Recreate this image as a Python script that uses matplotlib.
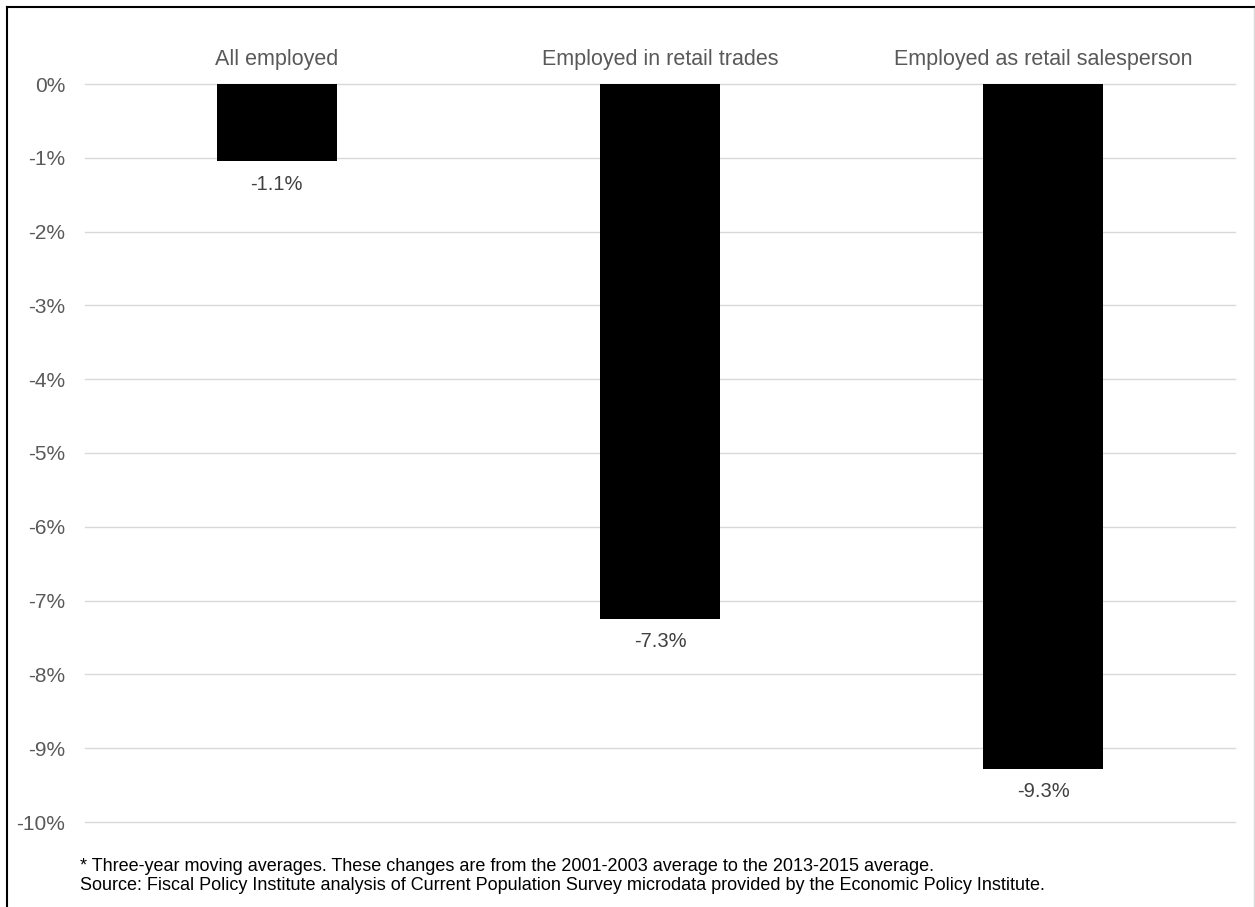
import matplotlib
matplotlib.use('Agg')
import matplotlib.pyplot as plt
import matplotlib.lines as mlines
import matplotlib.transforms as transforms

plt.rcParams['font.family'] = ['Liberation Sans', 'DejaVu Sans']

categories = ['All employed', 'Employed in retail trades', 'Employed as retail salesperson']
values = [-1.05, -7.25, -9.28]
value_labels = ['-1.1%', '-7.3%', '-9.3%']
yticks = [0, -1, -2, -3, -4, -5, -6, -7, -8, -9, -10]
ytick_labels = ['0%', '-1%', '-2%', '-3%', '-4%', '-5%', '-6%', '-7%', '-8%', '-9%', '-10%']
notes = ['* Three-year moving averages. These changes are from the 2001-2003 average to the 2013-2015 average.',
         'Source: Fiscal Policy Institute analysis of Current Population Survey microdata provided by the Economic Policy Institute.']

W, H = 1255, 907
fig = plt.figure(figsize=(W / 100, H / 100), dpi=100)
ax = fig.add_axes([85 / W, 1 - 822 / H, 1150 / W, 738 / H])

x = list(range(len(categories)))
ax.bar(x, values, width=0.313, color='black', zorder=3)
ax.set_xlim(-0.5, len(categories) - 0.5)
ax.set_ylim(-10, 0)

ax.set_yticks(yticks)
ax.set_yticklabels(ytick_labels, fontsize=15, color='#595959')
ax.tick_params(axis='y', length=0, pad=14.4)
ax.set_xticks([])
ax.grid(axis='y', color='#d9d9d9', linewidth=1, zorder=0)
for gl in ax.yaxis.get_gridlines():
    gl.set_clip_on(False)
for s in ax.spines.values():
    s.set_visible(False)

trans = transforms.blended_transform_factory(ax.transData, ax.transAxes)
for i, cat in enumerate(categories):
    ax.text(i, 1.0257, cat, transform=trans, ha='center', va='baseline', fontsize=15.5, color='#595959', clip_on=False)
    ax.annotate(value_labels[i], (i, values[i]), xytext=(0, -20.2), textcoords='offset points',
                ha='center', va='baseline', fontsize=14.5, color='#404040')

fig.text(80 / W, 1 - 871 / H, notes[0], fontsize=13, color='black', va='baseline')
fig.text(80 / W, 1 - 890 / H, notes[1], fontsize=13, color='black', va='baseline')

# рамка: слева и сверху чёрная, справа светло-серая
fig.lines.append(mlines.Line2D([7 / W, 7 / W], [0, 1 - 7 / H], transform=fig.transFigure, color='black', linewidth=1.5))
fig.lines.append(mlines.Line2D([7 / W, 1], [1 - 7 / H, 1 - 7 / H], transform=fig.transFigure, color='black', linewidth=1.5))
fig.lines.append(mlines.Line2D([1254 / W, 1254 / W], [0, 1 - 8 / H], transform=fig.transFigure, color='#d9d9d9', linewidth=1))

fig.savefig('out.png', dpi=100)
